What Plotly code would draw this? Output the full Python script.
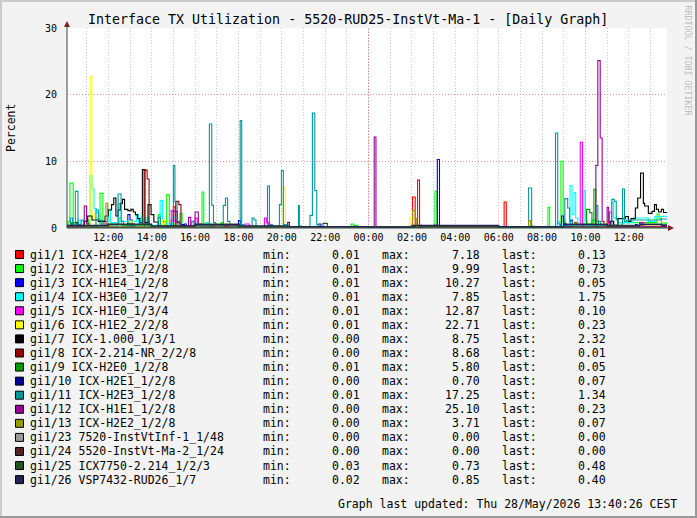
import plotly.graph_objects as go

# ---------------- data ----------------
X_START, X_END = 10.095, 37.76          # hours since 27 May 00:00
TICK_HOURS = [12, 14, 16, 18, 20, 22, 24, 26, 28, 30, 32, 34, 36]
TICK_LABELS = ["12:00", "14:00", "16:00", "18:00", "20:00", "22:00", "00:00",
               "02:00", "04:00", "06:00", "08:00", "10:00", "12:00"]
HOUR_GRID = list(range(11, 38))
Y_TICKS = [0, 10, 20, 30]

NAMES = ["gi1/1 ICX-H2E4_1/2/8", "gi1/2 ICX-H1E3_1/2/8", "gi1/3 ICX-H1E4_1/2/8",
         "gi1/4 ICX-H3E0_1/2/7", "gi1/5 ICX-H1E0_1/3/4", "gi1/6 ICX-H1E2_2/2/8",
         "gi1/7 ICX-1.000_1/3/1", "gi1/8 ICX-2.214-NR_2/2/8", "gi1/9 ICX-H2E0_1/2/8",
         "gi1/10 ICX-H2E1_1/2/8", "gi1/11 ICX-H2E3_1/2/8", "gi1/12 ICX-H1E1_1/2/8",
         "gi1/13 ICX-H2E2_1/2/8", "gi1/23 7520-InstVtInf-1_1/48",
         "gi1/24 5520-InstVt-Ma-2_1/24", "gi1/25 ICX7750-2.214_1/2/3",
         "gi1/26 VSP7432-RUD26_1/7"]
COLORS = ["#FF0000", "#00FF00", "#0000FF", "#00FFFF", "#FF00FF", "#FFFF00",
          "#000000", "#990000", "#009900", "#000099", "#009999", "#990099",
          "#999900", "#999999", "#552222", "#225522", "#222255"]
MIN_VALS = [0.01, 0.01, 0.01, 0.01, 0.01, 0.01, 0.00, 0.00, 0.01, 0.00, 0.01,
            0.00, 0.00, 0.00, 0.00, 0.03, 0.02]
MAX_VALS = [7.18, 9.99, 10.27, 7.85, 12.87, 22.71, 8.75, 8.68, 5.80, 0.70, 17.25,
            25.10, 3.71, 0.00, 0.00, 0.73, 0.85]
LAST_VALS = [0.13, 0.73, 0.05, 1.75, 0.10, 0.23, 2.32, 0.01, 0.05, 0.07, 1.34,
             0.23, 0.07, 0.00, 0.00, 0.48, 0.40]

# (hour, value) step points per interface
S1 = [(10.08, 0.2), (11.5, 1.0), (11.6, 0.2), (13.0, 0.6), (13.1, 0.2), (15.0, 3.2),
      (15.08, 1.0), (15.17, 0.3), (18.0, 0.5), (18.1, 0.2), (21.0, 0.1), (25.92, 0.3),
      (26.03, 4.65), (26.15, 0.3), (26.26, 7.18), (26.35, 0.4), (26.42, 0.1),
      (30.25, 3.9), (30.35, 0.1), (30.42, 0.2), (33.5, 0.8), (33.6, 0.2), (35.0, 0.6),
      (35.1, 0.2), (37.5, 0.13), (37.76, 0.13)]
S2 = [(10.08, 0.5), (10.15, 1.0), (10.23, 6.75), (10.38, 0.8), (10.5, 0.3), (11.0, 1.2),
      (11.1, 0.3), (11.62, 5.2), (11.75, 0.6), (12.5, 1.5), (12.6, 0.4), (13.8, 0.9),
      (13.9, 0.3), (14.3, 2.0), (14.4, 0.4), (14.69, 5.0), (14.81, 0.6), (15.3, 2.2),
      (15.4, 0.3), (16.32, 5.4), (16.4, 0.4), (17.2, 0.8), (17.3, 0.2), (20.0, 0.1),
      (23.2, 0.6), (23.3, 0.4), (23.5, 0.1), (26.8, 0.3), (27.06, 5.5), (27.15, 0.2),
      (27.3, 0.1), (32.27, 3.1), (32.35, 0.2), (32.87, 9.99), (32.97, 1.0), (33.05, 0.3),
      (33.5, 0.6), (34.3, 1.2), (34.5, 0.4), (35.5, 0.8), (37.3, 2.1), (37.4, 1.4),
      (37.5, 0.73), (37.76, 0.73)]
S3 = [(10.08, 0.1), (12.9, 2.0), (13.0, 1.2), (13.1, 0.2), (14.5, 1.0), (14.6, 0.2),
      (15.5, 0.6), (15.6, 0.1), (18.0, 1.1), (18.1, 0.2), (21.7, 0.6), (21.8, 0.1),
      (27.17, 10.27), (27.27, 0.3), (27.4, 0.05), (32.9, 1.8), (33.0, 0.3), (33.3, 1.2),
      (33.4, 0.1), (36.3, 0.5), (36.4, 0.1), (37.5, 0.05), (37.76, 0.05)]
S4 = [(10.08, 0.2), (10.6, 1.2), (10.7, 0.3), (11.16, 7.85), (11.25, 5.85), (11.34, 2.9),
      (11.45, 2.3), (11.6, 0.4), (11.7, 1.0), (12.0, 2.8), (12.1, 0.8), (12.45, 3.6),
      (12.6, 1.0), (13.3, 2.0), (13.4, 0.6), (13.75, 1.5), (13.85, 0.4), (14.39, 4.1),
      (14.5, 0.6), (15.0, 1.6), (15.1, 0.3), (16.5, 0.8), (16.6, 0.2), (18.0, 0.1),
      (32.7, 1.0), (32.8, 0.3), (33.29, 6.35), (33.38, 2.0), (33.47, 5.3), (33.55, 1.5),
      (33.65, 0.5), (33.93, 5.6), (34.0, 1.0), (34.1, 0.4), (35.2, 3.8), (35.3, 1.5),
      (35.5, 0.8), (36.2, 1.5), (36.9, 1.0), (37.2, 1.7), (37.5, 1.75), (37.76, 1.75)]
S5 = [(10.08, 0.1), (11.8, 1.0), (11.9, 0.1), (14.9, 2.6), (15.0, 1.0), (15.1, 0.2),
      (16.0, 1.5), (16.1, 0.2), (18.3, 0.6), (18.5, 0.1), (19.2, 1.5), (19.3, 0.8),
      (19.4, 0.4), (19.6, 0.1), (33.76, 12.87), (33.86, 0.4), (33.95, 0.1), (35.1, 2.4),
      (35.2, 1.0), (35.3, 0.2), (36.6, 0.8), (36.7, 0.2), (37.5, 0.10), (37.76, 0.10)]
S6 = [(10.08, 0.2), (11.16, 22.71), (11.24, 2.1), (11.35, 1.5), (11.5, 0.4), (11.6, 0.2),
      (13.0, 1.0), (13.1, 0.2), (14.5, 1.2), (14.6, 0.3), (17.0, 0.4), (17.1, 0.1),
      (20.07, 6.1), (20.16, 0.3), (20.3, 0.1), (25.9, 1.5), (26.0, 0.3), (26.1, 0.1),
      (34.9, 1.0), (35.0, 0.3), (37.5, 0.23), (37.76, 0.23)]
S7 = [(10.08, 0.3), (10.5, 0.8), (10.6, 0.3), (10.9, 1.0), (11.05, 1.8), (11.25, 1.2),
      (11.55, 1.0), (11.85, 1.8), (12.0, 2.7), (12.15, 3.5), (12.25, 4.5), (12.35, 1.8),
      (12.45, 2.7), (12.55, 3.7), (12.65, 4.3), (12.75, 2.8), (12.9, 2.6), (13.05, 2.8),
      (13.15, 2.4), (13.25, 2.0), (13.35, 1.4), (13.45, 0.8), (13.57, 8.75), (13.69, 0.8),
      (13.83, 3.5), (13.97, 2.0), (14.1, 0.9), (14.3, 0.3), (20.3, 0.2), (35.15, 1.0),
      (35.3, 0.4), (35.5, 1.4), (35.84, 1.7), (35.98, 1.0), (36.1, 1.4), (36.3, 3.0),
      (36.41, 4.5), (36.54, 8.25), (36.67, 3.7), (36.73, 3.3), (36.9, 2.2), (37.07, 2.5),
      (37.18, 3.5), (37.27, 2.8), (37.37, 2.4), (37.5, 2.8), (37.6, 2.32), (37.76, 2.32)]
S8 = [(10.08, 0.05), (13.65, 8.68), (13.79, 7.35), (13.88, 0.3), (14.0, 0.05),
      (15.11, 4.0), (15.25, 3.5), (15.35, 0.3), (15.5, 0.02), (37.5, 0.01), (37.76, 0.01)]
S9 = [(10.08, 0.1), (10.3, 0.8), (10.4, 0.1), (12.9, 0.7), (13.0, 0.1), (16.5, 0.5),
      (16.6, 0.05), (34.05, 2.8), (34.2, 2.3), (34.3, 0.5), (34.39, 5.8), (34.48, 1.0),
      (34.6, 0.1), (37.5, 0.05), (37.76, 0.05)]
S10 = [(10.08, 0.05), (11.0, 0.7), (11.1, 0.1), (13.1, 0.6), (13.2, 0.05), (15.4, 0.5),
       (15.5, 0.1), (18.0, 0.6), (18.1, 0.1), (27.0, 0.4), (27.1, 0.05), (33.0, 0.7),
       (33.1, 0.1), (37.5, 0.07), (37.76, 0.07)]
S11 = [(10.08, 0.3), (10.25, 1.5), (10.35, 0.3), (10.48, 5.5), (10.6, 0.5), (10.75, 1.2),
       (10.85, 0.2), (11.43, 2.7), (11.54, 1.2), (11.7, 0.3), (12.45, 5.1), (12.59, 1.0),
       (12.7, 0.3), (13.5, 1.5), (13.6, 0.3), (14.3, 1.6), (14.4, 0.3), (14.9, 1.2),
       (15.0, 9.35), (15.07, 3.9), (15.17, 1.0), (15.3, 0.2), (15.85, 1.0), (15.95, 0.2),
       (16.66, 15.6), (16.77, 3.4), (16.85, 0.8), (16.95, 0.2), (17.3, 3.4), (17.4, 4.5),
       (17.5, 1.0), (17.6, 0.2), (18.08, 16.1), (18.15, 0.5), (18.25, 0.1), (18.63, 1.5),
       (18.72, 1.2), (18.81, 0.3), (18.9, 0.1), (19.34, 6.3), (19.43, 0.5), (19.55, 0.1),
       (19.89, 3.5), (19.98, 8.6), (20.07, 0.5), (20.2, 0.1), (20.77, 3.35), (20.81, 0.3),
       (20.9, 0.1), (21.3, 1.9), (21.41, 17.25), (21.52, 5.6), (21.61, 0.5), (21.7, 0.1),
       (31.38, 6.0), (31.52, 0.3), (31.6, 0.1), (32.62, 14.25), (32.72, 0.6), (32.85, 0.2),
       (33.05, 4.4), (33.18, 3.0), (33.27, 1.0), (33.4, 0.3), (34.48, 3.35), (34.57, 1.0),
       (34.7, 0.3), (35.22, 4.3), (35.33, 4.0), (35.42, 1.2), (35.5, 0.4), (35.71, 5.85),
       (35.8, 1.0), (35.9, 1.2), (37.5, 1.34), (37.76, 1.34)]
S12 = [(10.08, 0.2), (10.89, 3.3), (11.0, 0.3), (11.2, 0.1), (15.0, 2.5), (15.18, 0.8),
       (15.3, 0.1), (15.7, 1.6), (15.8, 0.2), (16.0, 2.4), (16.15, 0.6), (16.3, 0.1),
       (24.26, 13.65), (24.34, 0.1), (34.48, 9.4), (34.57, 25.1), (34.68, 13.5),
       (34.77, 1.0), (34.85, 0.2), (35.0, 3.1), (35.07, 0.8), (35.15, 0.2), (36.5, 0.8),
       (36.6, 0.2), (37.5, 0.23), (37.76, 0.23)]
S13 = [(10.08, 0.1), (11.0, 0.6), (11.1, 0.1), (11.89, 3.71), (11.97, 0.3), (12.1, 0.1),
       (13.5, 0.6), (13.6, 0.1), (26.03, 2.65), (26.15, 1.4), (26.22, 0.1), (31.38, 1.1),
       (31.47, 0.1), (37.5, 0.07), (37.76, 0.07)]
S14 = [(10.08, 0.0), (37.76, 0.0)]
S15 = [(10.08, 0.0), (37.76, 0.0)]
S16 = [(10.08, 0.3), (12.0, 0.5), (14.0, 0.3), (16.0, 0.6), (18.0, 0.2), (21.9, 0.7),
       (22.1, 0.2), (24.0, 0.1), (26.5, 0.3), (30.0, 0.1), (33.0, 0.6), (35.0, 0.4),
       (36.5, 0.6), (37.5, 0.48), (37.76, 0.48)]
S17 = [(10.08, 0.4), (12.0, 0.6), (14.0, 0.3), (16.0, 0.5), (18.0, 0.3), (20.27, 0.85),
       (20.35, 0.2), (24.0, 0.1), (26.0, 0.4), (30.0, 0.2), (33.0, 0.5), (35.0, 0.3),
       (36.5, 0.5), (37.5, 0.40), (37.76, 0.40)]
SERIES = [S1, S2, S3, S4, S5, S6, S7, S8, S9, S10, S11, S12, S13, S14, S15, S16, S17]

# ---------------- layout helpers ----------------
W, H = 697, 518
PL, PR, PT, PB = 67, 667, 28, 228
FONT = "DejaVu Sans Mono"
BG = "#F3F3F3"
MGRID = "#E59494"
GRID = "#C6C6C6"


def fx(px):
    return (px - PL) / (PR - PL)


def fy(py):
    return (PB - py) / (PB - PT)


fig = go.Figure()
for name, color, pts in zip(NAMES, COLORS, SERIES):
    fig.add_trace(go.Scatter(
        x=[p[0] for p in pts], y=[p[1] for p in pts], mode="lines", name=name,
        line=dict(color=color, width=1.1, shape="hv"), hoverinfo="skip",
        showlegend=False))

shapes = []
annotations = []


def prect(x0, y0, x1, y1, color):
    shapes.append(dict(type="rect", xref="paper", yref="paper",
                       x0=fx(x0), x1=fx(x1), y0=fy(y1), y1=fy(y0),
                       line=dict(width=0), fillcolor=color, layer="above"))


# frame (3D shade)
prect(0, 0, W, 2, "#CBCBCB")
prect(0, 0, 2, H, "#CBCBCB")
prect(0, H - 2, W, H, "#999999")
prect(W - 2, 0, W, H, "#999999")

# midnight major grid line
shapes.append(dict(type="line", xref="x", yref="paper", x0=24, x1=24, y0=0, y1=1,
                   line=dict(color="#F07C7C", width=1, dash="1px,2px"), layer="between"))

# axes with arrows
shapes.append(dict(type="line", xref="paper", yref="paper", x0=fx(67), x1=fx(67),
                   y0=fy(228), y1=fy(24), line=dict(color="#2C4D43", width=1),
                   layer="above"))
shapes.append(dict(type="line", xref="paper", yref="paper", x0=fx(67), x1=fx(670),
                   y0=fy(228), y1=fy(228), line=dict(color="#2C4D43", width=1),
                   layer="above"))
shapes.append(dict(type="path", xref="paper", yref="paper",
                   path=f"M {fx(67)},{fy(21)} L {fx(64)},{fy(27)} L {fx(70)},{fy(27)} Z",
                   fillcolor="#7F1F1F", line=dict(width=0), layer="above"))
shapes.append(dict(type="path", xref="paper", yref="paper",
                   path=f"M {fx(674)},{fy(228)} L {fx(668)},{fy(225)} L {fx(668)},{fy(231)} Z",
                   fillcolor="#7F1F1F", line=dict(width=0), layer="above"))


def text(px, py, s, size=11.5, anchor="left", color="#000000", angle=0):
    annotations.append(dict(xref="paper", yref="paper", x=fx(px), y=fy(py), text=s,
                            showarrow=False, xanchor=anchor, yanchor="middle",
                            textangle=angle, borderpad=0, borderwidth=0,
                            font=dict(family=FONT, size=size, color=color)))


text(347.5, 19, "Interface TX Utilization - 5520-RUD25-InstVt-Ma-1 - [Daily Graph]",
     size=13.3, anchor="center")
text(11, 128, "Percent", size=11.5, anchor="center", angle=-90)
text(687.5, 60, "RRDTOOL / TOBI OETIKER", size=8.3, anchor="center",
     color="#BDBDBD", angle=90)

ROW0, ROWH = 254.5, 14.07
for i, (name, color) in enumerate(zip(NAMES, COLORS)):
    yc = ROW0 + ROWH * i
    shapes.append(dict(type="rect", xref="paper", yref="paper",
                       x0=fx(15.5), x1=fx(23.5), y0=fy(yc + 4), y1=fy(yc - 4),
                       fillcolor=color, line=dict(color="#000000", width=1),
                       layer="above"))
    text(30, yc, name)
    text(263, yc, "min:")
    text(360, yc, f"{MIN_VALS[i]:.2f}", anchor="right")
    text(381.5, yc, "max:")
    text(479.5, yc, f"{MAX_VALS[i]:.2f}", anchor="right")
    text(501.5, yc, "last:")
    text(605.5, yc, f"{LAST_VALS[i]:.2f}", anchor="right")

text(338, 504, "Graph last updated: Thu 28/May/2026 13:40:26 CEST")

fig.update_layout(
    width=W, height=H,
    margin=dict(l=PL, r=W - PR, t=PT, b=H - PB, pad=0),
    paper_bgcolor=BG, plot_bgcolor="#FFFFFF",
    font=dict(family=FONT, size=10, color="#000000"),
    showlegend=False, shapes=shapes, annotations=annotations,
)
fig.update_xaxes(
    range=[X_START, X_END], tickmode="array", tickvals=TICK_HOURS,
    ticktext=TICK_LABELS, ticks="", showline=False, zeroline=False,
    showgrid=True, gridcolor=GRID, griddash="1px,2px", gridwidth=1,
    minor=dict(tickmode="array", tickvals=HOUR_GRID, showgrid=True,
               gridcolor=GRID, griddash="1px,2px", gridwidth=1, ticks=""),
    tickfont=dict(family=FONT, size=10), ticklabelstandoff=2, fixedrange=True)
fig.update_yaxes(
    range=[0, 30], tickmode="array", tickvals=Y_TICKS, ticks="", showline=False,
    zeroline=False, showgrid=True, gridcolor=MGRID, griddash="1px,2px", gridwidth=1,
    tickfont=dict(family=FONT, size=10), ticklabelstandoff=9, fixedrange=True)

fig.write_html("out.html")
